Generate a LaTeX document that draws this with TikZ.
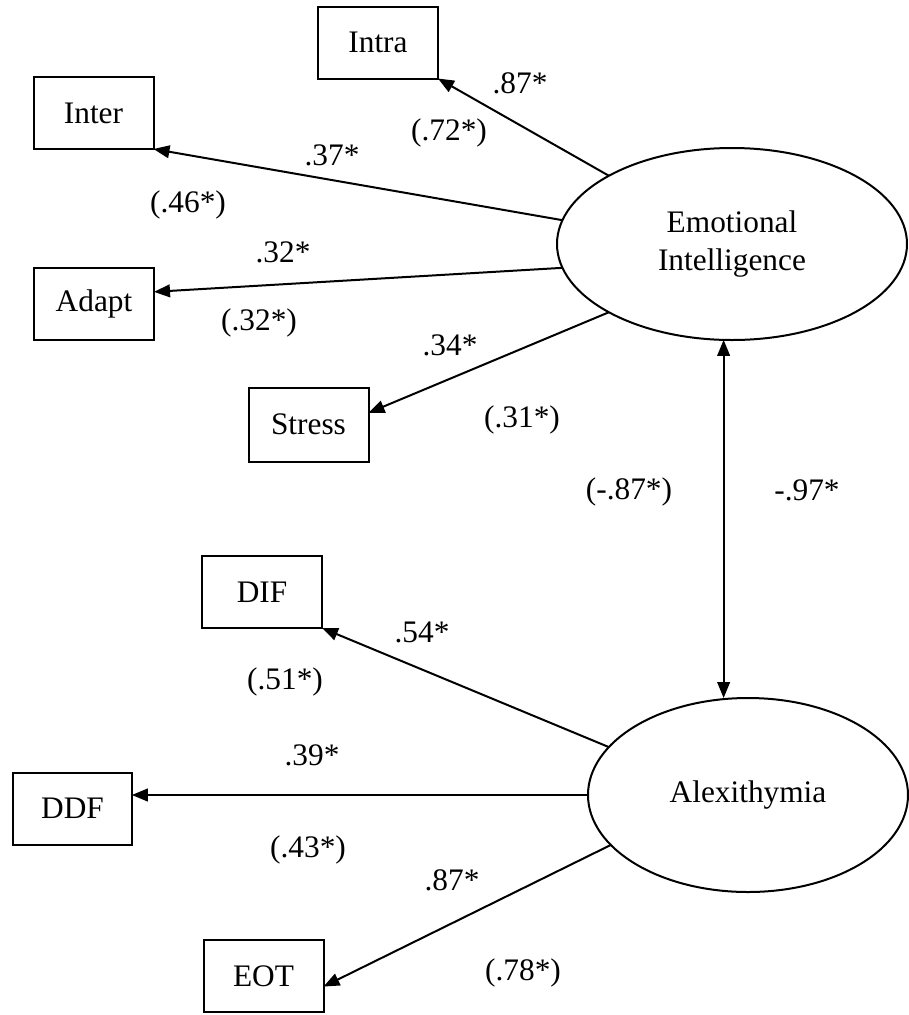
\documentclass[tikz,border=0pt]{standalone}
\usepackage{fontspec}
\setmainfont{Liberation Serif}
\usetikzlibrary{arrows.meta,shapes.geometric}
\begin{document}
\begin{tikzpicture}[x=0.75pt,y=-0.75pt,
  every node/.style={font=\fontsize{23.5}{28}\selectfont},
  obs/.style={draw,line width=1.5pt,rectangle,minimum width=90pt,minimum height=54pt,inner sep=0pt,outer sep=0pt},
  lat/.style={draw,line width=1.5pt,ellipse,inner sep=0pt,outer sep=0pt,align=center},
  load/.style={line width=1.5pt,-{Triangle[length=12pt,width=9.5pt]}},
  twoway/.style={line width=1.5pt,{Triangle[length=12pt,width=9.5pt]}-{Triangle[length=12pt,width=9.5pt]}},
  coef/.style={inner sep=0pt}]
\useasboundingbox (0,0) rectangle (908,1015);

% latent factors
\node[lat,minimum width=262.5pt,minimum height=144pt] (ei) at (732,244) {Emotional\\Intelligence};
\node[lat,minimum width=240pt,minimum height=145.5pt] (alex) at (748,795) {Alexithymia};

% indicators of emotional intelligence
\node[obs] (intra)  at (378,42.5)  {Intra};
\node[obs] (inter)  at (93.5,113)  {Inter};
\node[obs] (adapt)  at (94,303.5)  {Adapt};
\node[obs,minimum height=55.5pt] (stress) at (308.5,424.5) {Stress};

% indicators of alexithymia
\node[obs] (dif) at (262,592)   {DIF};
\node[obs,minimum width=89pt] (ddf) at (72.5,808.5) {DDF};
\node[obs] (eot) at (263.5,976) {EOT};

% loadings
\draw[load] (ei.151) -- (intra.south east);
\draw[load] (ei.172) -- (inter.south east);
\draw[load] (ei.188) -- (adapt.11);
\draw[load] (ei.209) -- (stress.11);
\draw[load] (alex.161) -- (dif.south east);
\draw[load] (alex.west) -- (alex.west -| ddf.east);
\draw[load] (alex.200) -- (eot.-10);

% factor correlation
\draw[twoway] (ei.265) -- (ei.265 |- alex.north);

% coefficients
\node[coef] (c1)  at (520,83)  {.87*};
\node[coef] (c2)  at (449,133) {(.72*)};
\node[coef] (c3)  at (332,155) {.37*};
\node[coef] (c4)  at (188,205) {(.46*)};
\node[coef] (c5)  at (283,252) {.32*};
\node[coef] (c6)  at (259,323) {(.32*)};
\node[coef] (c7)  at (450,345) {.34*};
\node[coef] (c8)  at (522,420) {(.31*)};
\node[coef] (c9)  at (629,492) {(-.87*)};
\node[coef] (c10) at (807,490) {-.97*};
\node[coef] (c11) at (422,632) {.54*};
\node[coef] (c12) at (285,682) {(.51*)};
\node[coef] (c13) at (312,755) {.39*};
\node[coef] (c14) at (308,850) {(.43*)};
\node[coef] (c15) at (452,880) {.87*};
\node[coef] (c16) at (523,973) {(.78*)};
\end{tikzpicture}
\end{document}
